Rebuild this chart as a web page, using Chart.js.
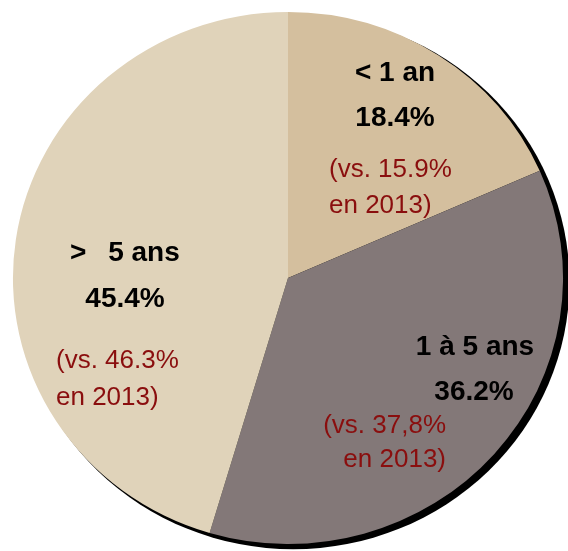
<!DOCTYPE html>
<html>
<head>
<meta charset="utf-8">
<script src="https://cdn.jsdelivr.net/npm/chart.js@4"></script>
<style>
  html, body { margin: 0; padding: 0; background: #fff; }
  canvas { display: block; }
</style>
</head>
<body>
<canvas id="pieChart" width="568" height="551"></canvas>
<script>
// data
const categories = ['< 1 an', '1 à 5 ans', '>\u2002 5 ans'];
const shares = [18.4, 36.2, 45.4];
const shareLabels = ['18.4%', '36.2%', '45.4%'];
const prevLabels = ['(vs. 15.9%', '(vs. 37,8%', '(vs. 46.3%'];
const prevYear = 'en 2013)';
const sliceColors = ['#D4BF9E', '#837878', '#E0D3BA'];

// where each slice's text sits (baselines)
const textPos = [
  { name: [395, 81, 'center'], pct: [395, 126, 'center'], prev: [329, 177, 213, 'left'] },
  { name: [475, 355, 'center'], pct: [474, 400, 'center'], prev: [446, 433, 467, 'right'] },
  { name: [70, 261, 'left'], pct: [125, 307, 'center'], prev: [56, 368, 405, 'left'] }
];

// the original pie is a bit wider than tall
const stretchX = 1.034;

// stretch the pie sideways and put a black drop shadow under it
const pieShadow = {
  id: 'pieShadow',
  beforeDatasetsDraw(chart) {
    const arc = chart.getDatasetMeta(0).data[0];
    const ctx = chart.ctx;
    ctx.save();
    if (!arc) return;
    ctx.translate(arc.x, 0);
    ctx.scale(stretchX, 1);
    ctx.translate(-arc.x, 0);
    ctx.fillStyle = '#000';
    ctx.beginPath();
    ctx.arc(arc.x + 5, arc.y + 4, arc.outerRadius + 1.2, 0, Math.PI * 2);
    ctx.fill();
  },
  afterDatasetsDraw(chart) {
    chart.ctx.restore();
  }
};

const sliceText = {
  id: 'sliceText',
  afterDatasetsDraw(chart) {
    const ctx = chart.ctx;
    ctx.save();
    ctx.textBaseline = 'alphabetic';
    categories.forEach((cat, i) => {
      const p = textPos[i];
      ctx.fillStyle = '#000';
      ctx.font = 'bold 28px "Liberation Sans", Arial, sans-serif';
      ctx.textAlign = p.name[2];
      ctx.fillText(cat, p.name[0], p.name[1]);
      ctx.textAlign = p.pct[2];
      ctx.fillText(shareLabels[i], p.pct[0], p.pct[1]);
      ctx.fillStyle = '#8A0E0E';
      ctx.font = '26px "Liberation Sans", Arial, sans-serif';
      ctx.textAlign = p.prev[3];
      ctx.fillText(prevLabels[i], p.prev[0], p.prev[1]);
      ctx.fillText(prevYear, p.prev[0], p.prev[2]);
    });
    ctx.restore();
  }
};

new Chart(document.getElementById('pieChart'), {
  type: 'pie',
  data: {
    labels: categories,
    datasets: [{
      data: shares,
      backgroundColor: sliceColors,
      borderWidth: 0
    }]
  },
  options: {
    responsive: false,
    animation: false,
    layout: { padding: { left: 22, right: 14, top: 12, bottom: 7 } },
    plugins: {
      legend: { display: false },
      tooltip: { enabled: false }
    }
  },
  plugins: [pieShadow, sliceText]
});
</script>
</body>
</html>
